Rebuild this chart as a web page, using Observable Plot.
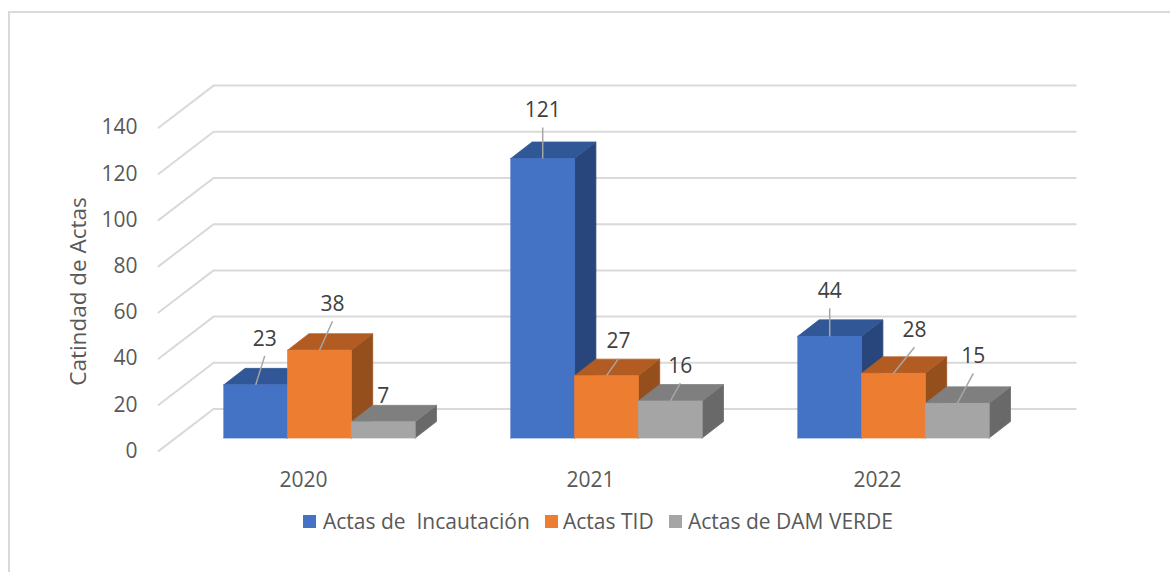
<!DOCTYPE html>
<html>
<head>
<meta charset="utf-8">
<script src="https://cdn.jsdelivr.net/npm/d3@7"></script>
<script src="https://cdn.jsdelivr.net/npm/@observablehq/plot@0.6"></script>
<style>
  html, body { margin: 0; padding: 0; background: #fff; overflow: hidden; width: 1170px; height: 572px; }
  #frame { position: absolute; left: 8px; top: 11px; width: 1162px; height: 561px; border-top: 2px solid #d9d9d9; border-left: 2px solid #d9d9d9; box-sizing: border-box; }
  #chart { position: absolute; left: 0; top: 0; }
  #chart svg { display: block; }
  #legend { position: absolute; left: 0; top: 500px; width: 1170px; height: 44px; font: 21px "Open Sans", sans-serif; color: #595959; white-space: pre; }
  #legend span.k { position: absolute; top: 15px; width: 13px; height: 13px; }
  #legend span.t { position: absolute; top: 8px; line-height: 26px; }
</style>
</head>
<body>
<div id="frame"></div>
<div id="chart"></div>
<div id="legend"></div>
<script>
const years = ["2020", "2021", "2022"];
const seriesNames = ["Actas de  Incautación", "Actas TID", "Actas de DAM VERDE"];
const incautacion = [23, 121, 44];
const tid = [38, 27, 28];
const damVerde = [7, 16, 15];
const yTicks = [0, 20, 40, 60, 80, 100, 120, 140];
const axisTitle = "Catindad de Actas";

const frontColors = ["#4472c4", "#ed7d31", "#a5a5a5"];
const topColors = ["#325796", "#b25c23", "#7f7f7f"];
const sideColors = ["#29467c", "#954f1c", "#696969"];

// Layout of the pseudo-3D view, in scale units
const W = 1170, H = 500;
const pxX = 287;            // px per category
const pxY = 2.31;           // px per value unit
const x0 = 319, y0 = 437.5; // pixel of category 0 / value 0
const bw = 63.8 / pxX;
const depthX = 21.3 / pxX, depthY = 16.5 / pxY;
const gridL = -0.561, gridM = -0.369, gridR = 2.635;
const gridFront = -5.7, gridBack = 12.55;
const labelGap = 17;

// Leader line ends relative to the bar's top centre, in px [dx, dy]
const leaders = [
  [[9, -29], [13, -29], null],
  [[0, -31], [12, -17], [10, -18]],
  [[0, -28], [21, -26], [16, -30]]
];

const values = [incautacion, tid, damVerde];
const faces = [], labels = [];
years.forEach((yr, c) => {
  values.forEach((vals, s) => {
    const v = vals[c];
    const a = c + (s - 1.5) * bw, b = a + bw;
    const id = `${c}-${s}`;
    const poly = (name, color, pts) => {
      [...pts, pts[0]].forEach(([x, y]) => faces.push({id: `${id}-${name}`, x, y, color}));
    };
    poly("side", sideColors[s], [[b, 0], [b + depthX, depthY], [b + depthX, v + depthY], [b, v]]);
    poly("top", topColors[s], [[a, v], [b, v], [b + depthX, v + depthY], [a + depthX, v + depthY]]);
    poly("front", frontColors[s], [[a, 0], [b, 0], [b, v], [a, v]]);
    const off = leaders[c][s];
    const cx = a + bw / 2;
    if (off) {
      labels.push({x1: cx, y1: v, x2: cx + off[0] / pxX, y2: v - off[1] / pxY,
                   lx: cx + off[0] / pxX, ly: v - (off[1] - labelGap) / pxY, v});
    } else {
      labels.push({lx: cx, ly: v + 25.5 / pxY, v});
    }
  });
});

const grid = yTicks.flatMap(t => [
  {t, x: gridL, y: t + gridFront},
  {t, x: gridM, y: t + gridBack},
  {t, x: gridR, y: t + gridBack}
]);

const marginLeft = 137;
const chart = Plot.plot({
  width: W, height: H,
  marginLeft, marginRight: 0, marginTop: 0, marginBottom: 30,
  style: {background: "transparent", fontFamily: '"Open Sans", sans-serif', overflow: "visible"},
  x: {domain: [(marginLeft - x0) / pxX, (W - x0) / pxX], range: [marginLeft, W]},
  y: {domain: [0, 140], range: [y0, y0 - 140 * pxY]},
  color: {type: "identity"},
  marks: [
    Plot.line(grid, {x: "x", y: "y", z: "t", stroke: "#d9d9d9", strokeWidth: 2, strokeLinejoin: "miter"}),
    Plot.line(faces, {x: "x", y: "y", z: "id", fill: "color", stroke: "color", strokeWidth: 0.75}),
    Plot.link(labels.filter(d => d.x1 !== undefined), {x1: "x1", y1: "y1", x2: "x2", y2: "y2", stroke: "#a6a6a6", strokeWidth: 1.5}),
    Plot.text(labels, {x: "lx", y: "ly", text: d => String(d.v), fontSize: 21, fill: "#404040", textAnchor: "middle"}),
    Plot.axisY({ticks: yTicks, anchor: "left", tickSize: 0, tickPadding: 0, dy: 13, fontSize: 21, color: "#595959", label: null, tickFormat: d => String(d)}),
    Plot.axisX({ticks: [0, 1, 2], anchor: "bottom", tickSize: 0, tickPadding: 2, dx: -16, fontSize: 21, color: "#595959", label: null, tickFormat: i => years[i]}),
    Plot.text([axisTitle], {text: d => d, frameAnchor: "left", dx: -59, dy: 56, rotate: -90, fontSize: 22.5, fill: "#595959", textAnchor: "middle"})
  ]
});
document.getElementById("chart").appendChild(chart);

const keyLeft = [303, 545, 669], textLeft = [323, 563, 688];
const legend = document.getElementById("legend");
seriesNames.forEach((name, i) => {
  const k = document.createElement("span");
  k.className = "k"; k.style.left = keyLeft[i] + "px"; k.style.background = frontColors[i];
  const t = document.createElement("span");
  t.className = "t"; t.style.left = textLeft[i] + "px"; t.textContent = name;
  legend.append(k, t);
});
</script>
</body>
</html>
